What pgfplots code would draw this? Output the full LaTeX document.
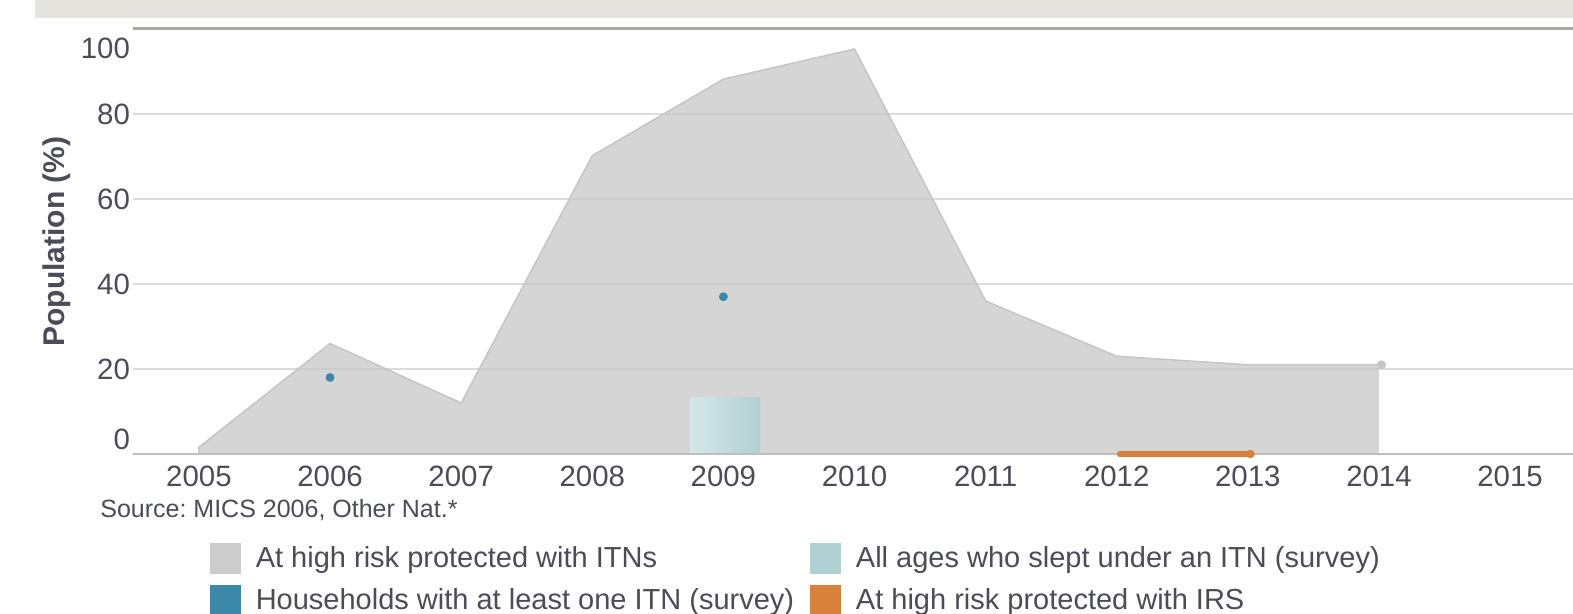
\documentclass[border=0pt]{standalone}
\usepackage{pgfplots}
\pgfplotsset{compat=1.18}
\usepackage{fontspec}
\setmainfont{Liberation Sans}
\frenchspacing
\definecolor{txt}{RGB}{75,76,88}
\definecolor{areagray}{RGB}{200,200,200}
\definecolor{edgegray}{RGB}{198,198,198}
\definecolor{leggray}{RGB}{204,204,204}
\definecolor{hh}{RGB}{59,136,168}
\definecolor{allR}{RGB}{177,208,211}
\definecolor{allL}{RGB}{212,230,231}
\definecolor{irs}{RGB}{217,129,58}
\definecolor{gridc}{RGB}{220,220,220}
\definecolor{axisc}{RGB}{190,190,190}
\definecolor{topc}{RGB}{170,170,165}
\definecolor{banner}{RGB}{229,228,223}
\begin{document}
\begin{tikzpicture}
\path[use as bounding box] (-66.5pt,-80pt) rectangle (720pt,227pt);
\fill[banner] (-49pt,218pt) rectangle (720pt,227pt);
\begin{axis}[
  at={(0pt,0pt)}, anchor=south west,
  scale only axis, width=720pt, height=212.5pt,
  xmin=2004.497, xmax=2015.48, ymin=0, ymax=100,
  clip=false,
  axis line style={draw=none},
  tick style={draw=none},
  xtick={2005,2006,...,2015},
  ytick={0,20,40,60,80,100},
  ymajorgrids, grid style={gridc, line width=0.75pt},
  /pgf/number format/assume math mode=true,
  /pgf/number format/1000 sep={},
  ticklabel style={font=\fontsize{14.7}{17}\selectfont, text=txt},
  xticklabel style={yshift=-2.5pt},
  yticklabel style={xshift=2pt, yshift={(\ticknum==0)*7.5pt-(\ticknum==5)*9.5pt}},
  ylabel={Population (\%)},
  every axis y label/.style={at={([xshift=-38pt]rel axis cs:0,0.5)}, rotate=90, anchor=center,
     font=\fontsize{15}{18}\selectfont\bfseries, text=txt},
  legend columns=2,
  legend cell align=left,
  legend image code/.code={\fill[#1] (0pt,-7.5pt) rectangle (15pt,7.5pt);},
  legend style={draw=none, fill=none, at={(rel axis cs:0,0)}, anchor=north west,
     xshift=38.5pt, yshift=-44.5pt, inner sep=0pt, outer sep=0pt,
     font=\fontsize{14.5}{17}\selectfont, text=txt,
     nodes={inner sep=0pt}, row sep=5.5pt,
     /tikz/every even column/.append style={column sep=8pt},
     /tikz/every odd column/.append style={column sep=7.5pt}},
]
% At high risk protected with ITNs (area)
\addplot[fill=areagray, fill opacity=0.77, draw=none, forget plot] coordinates {
  (2005,1.6) (2006,26) (2007,12) (2008,70.2) (2009,88.2) (2010,95.3)
  (2011,36) (2012,23) (2013,21) (2014,21)} \closedcycle;
\addplot[draw=edgegray, line width=0.75pt, forget plot] coordinates {
  (2005,0) (2005,1.6) (2006,26) (2007,12) (2008,70.2) (2009,88.2) (2010,95.3)
  (2011,36) (2012,23) (2013,21) (2014,21)};
\addplot[only marks, mark=*, mark size=2pt, color=edgegray, forget plot] coordinates {(2014.02,21)};
% All ages who slept under an ITN (survey)
\addplot[draw=none, left color=allL, middle color=allR, right color=allR, forget plot] coordinates {
  (2008.75,13.2) (2009.28,13.2)} \closedcycle;
% Households with at least one ITN (survey)
\addplot[only marks, mark=*, mark size=2pt, color=hh, forget plot] coordinates {(2006,18) (2009,37)};
% axis lines
\draw[axisc, line width=1pt] (rel axis cs:0,0) -- (rel axis cs:1,0);
\draw[topc, line width=1.5pt] (rel axis cs:0,1) -- (rel axis cs:1,1);
% At high risk protected with IRS
\addplot[color=irs, line width=2.6pt, line cap=round, forget plot] coordinates {(2012.02,0) (2013.02,0)};
\addplot[only marks, mark=*, mark size=1.9pt, color=irs, forget plot] coordinates {(2013.02,0)};
% source
\node[anchor=west, inner sep=0pt, font=\fontsize{12.5}{15}\selectfont, text=txt]
  at ([xshift=-16.5pt, yshift=-28pt]rel axis cs:0,0) {Source: MICS 2006, Other Nat.*};
% legend
\addlegendimage{leggray}
\addlegendentry{At high risk protected with ITNs}
\addlegendimage{allR}
\addlegendentry{All ages who slept under an ITN (survey)}
\addlegendimage{hh}
\addlegendentry{Households with at least one ITN (survey)}
\addlegendimage{irs}
\addlegendentry{At high risk protected with IRS}
\end{axis}
\end{tikzpicture}
\end{document}
